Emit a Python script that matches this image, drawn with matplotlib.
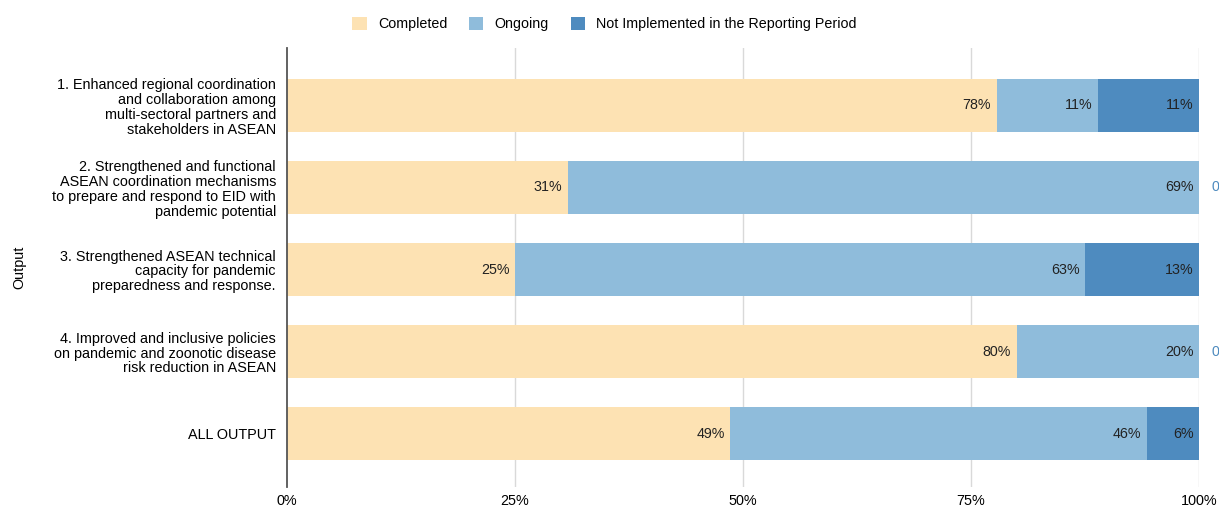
import matplotlib
matplotlib.use("Agg")
import matplotlib.pyplot as plt
from matplotlib.patches import Patch

plt.rcParams['font.family'] = ['Liberation Sans', 'DejaVu Sans']

outputs = [
    "1. Enhanced regional coordination\nand collaboration among\nmulti-sectoral partners and\nstakeholders in ASEAN",
    "2. Strengthened and functional\nASEAN coordination mechanisms\nto prepare and respond to EID with\npandemic potential",
    "3. Strengthened ASEAN technical\ncapacity for pandemic\npreparedness and response.",
    "4. Improved and inclusive policies\non pandemic and zoonotic disease\nrisk reduction in ASEAN",
    "ALL OUTPUT",
]
completed = [77.8, 30.8, 25.0, 80.0, 48.6]
ongoing = [11.1, 69.2, 62.5, 20.0, 45.7]
not_impl = [11.1, 0.0, 12.5, 0.0, 5.7]

series_names = ["Completed", "Ongoing", "Not Implemented in the Reporting Period"]
colors = ['#fde2b3', '#8fbcdb', '#4e8bbf']

fig = plt.figure(figsize=(12.19, 5.08), dpi=100)
ax = fig.add_axes([287 / 1219, 1 - 487 / 508, 912 / 1219, 439 / 508])

y = list(range(len(outputs)))
left = [0.0] * len(outputs)
for vals, col in zip([completed, ongoing, not_impl], colors):
    ax.barh(y, vals, left=left, height=0.64, color=col, zorder=2)
    for i, v in enumerate(vals):
        end = left[i] + v
        label = f"{int(v + 0.5)}%"
        if v > 0:
            ax.text(end - 0.6, i, label, ha='right', va='center',
                    fontsize=10.3, color='#222222', zorder=3)
        else:
            ax.text(end + 1.4, i, label, ha='left', va='center',
                    fontsize=10.3, color=colors[2], zorder=3, clip_on=False)
    left = [l + v for l, v in zip(left, vals)]

ax.set_xlim(0, 100)
ax.set_ylim(4.65, -0.7)
ax.set_yticks(y)
ax.set_yticklabels(outputs, fontsize=10.4, linespacing=1.08)
ax.set_xticks([0, 25, 50, 75, 100])
ax.set_xticklabels(["0%", "25%", "50%", "75%", "100%"], fontsize=10.4)
ax.tick_params(axis='both', length=0)
ax.tick_params(axis='y', pad=8)
ax.tick_params(axis='x', pad=5)

for s in ['top', 'right', 'bottom']:
    ax.spines[s].set_visible(False)
ax.spines['left'].set_color('#555555')
ax.spines['left'].set_linewidth(1.3)
ax.spines['left'].set_zorder(4)

for xv in [25, 50, 75, 100]:
    ax.axvline(xv, color='#d9d9d9', linewidth=1, zorder=1)

ax.set_ylabel("Output", fontsize=10.4)
ax.yaxis.set_label_coords(-0.286, 0.5)

handles = [Patch(facecolor=c, edgecolor='none') for c in colors]
fig.legend(handles, series_names, loc='center', bbox_to_anchor=(0.496, 0.953),
           ncol=3, frameon=False, fontsize=10.3, handlelength=1.0, handleheight=1.0,
           handletextpad=0.8, columnspacing=1.5)

fig.savefig("out.png", dpi=100)
